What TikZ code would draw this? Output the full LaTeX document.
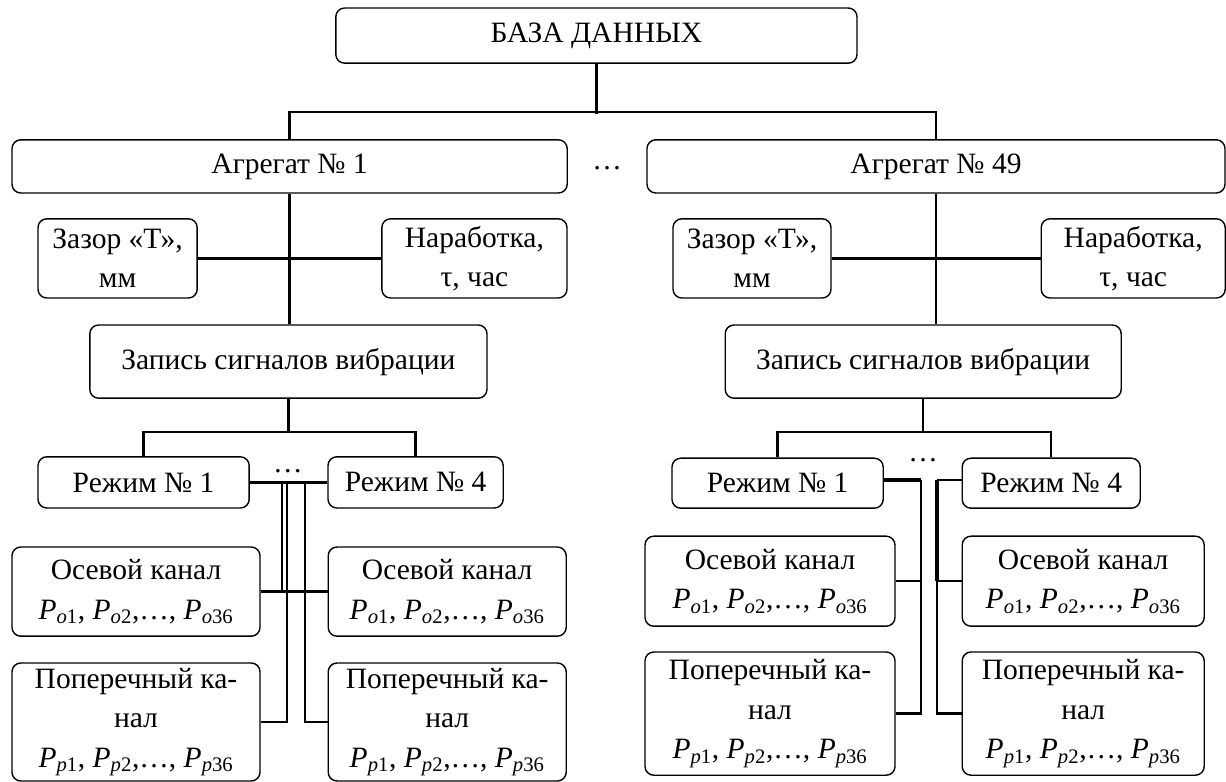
\documentclass[tikz,border=0pt]{standalone}
\usepackage{fontspec}
\setmainfont{Liberation Serif}
\usepackage{tikz}
\usetikzlibrary{shapes.geometric, arrows}
\tikzstyle{box} = [rectangle, rounded corners=0.22cm, text centered, align=center, inner sep=1pt, draw=black, line width=1pt, font=\fontsize{21}{28}\selectfont]
\tikzstyle{conn} = [draw, line width=1.8pt]
\tikzstyle{heavy} = [draw, line width=2.8pt]
\tikzstyle{dots} = [inner sep=0pt, font=\fontsize{21}{28}\selectfont]
\newcommand{\Pch}[2]{\textit{P}\textsubscript{\textit{#1}#2}}

\begin{document}
\begin{tikzpicture}
   \useasboundingbox (0,0) rectangle (30.65,-19.55);
   % top level
   \node (db) [box, minimum width=13.03cm, minimum height=1.38cm] at (14.91,-0.89) {БАЗА ДАННЫХ};
   \node (agg1) [box, minimum width=13.88cm, minimum height=1.33cm] at (7.24,-4.16) {Агрегат № 1};
   \node (agg2) [box, minimum width=14.45cm, minimum height=1.33cm] at (23.40,-4.16) {Агрегат № 49};
   \node (aggdots) [dots] at (15.18,-4.2) {\ldots};
   \draw [conn] (db.south) -- ++(0,-1.25);
   \draw [conn] (agg1.north) -- ++(0,0.675) -| (agg2.north);
   % aggregate 1
   \node (gap1) [box, minimum width=3.98cm, minimum height=1.98cm] at (2.94,-6.46) {Зазор «Т»,\\мм};
   \node (run1) [box, minimum width=4.63cm, minimum height=1.98cm] at (11.86,-6.46) {Наработка,\\τ, час};
   \node (rec1) [box, minimum width=9.93cm, minimum height=1.83cm] at (7.21,-9.04) {Запись сигналов вибрации};
   \draw [conn] (agg1.south) -- (agg1.south |- rec1.north);
   \draw [conn] (gap1.east) -- (run1.west);
   \node (modeA1) [box, minimum width=5.28cm, minimum height=1.28cm] at (3.59,-12.06) {Режим № 1};
   \node (modeA4) [box, minimum width=4.38cm, minimum height=1.28cm] at (10.39,-12.06) {Режим № 4};
   \node (modedotsA) [dots] at (7.2,-11.78) {\ldots};
   \coordinate (busA) at (7.21,-10.8);
   \draw [conn] (rec1.south) -- (busA);
   \draw [conn] (modeA1.north) |- (busA) -| (modeA4.north);
   \node (axA1) [box, minimum width=6.2cm, minimum height=2.23cm] at (3.4,-14.79) {Осевой канал\\\Pch{o}{1}, \Pch{o}{2},\ldots, \Pch{o}{36}};
   \node (axA4) [box, minimum width=5.95cm, minimum height=2.23cm] at (11.18,-14.79) {Осевой канал\\\Pch{o}{1}, \Pch{o}{2},\ldots, \Pch{o}{36}};
   \node (crA1) [box, minimum width=6.2cm, minimum height=2.95cm] at (3.4,-18.05) {Поперечный ка-\\нал\\\Pch{p}{1}, \Pch{p}{2},\ldots, \Pch{p}{36}};
   \node (crA4) [box, minimum width=5.95cm, minimum height=2.95cm] at (11.18,-18.05) {Поперечный ка-\\нал\\\Pch{p}{1}, \Pch{p}{2},\ldots, \Pch{p}{36}};
   \coordinate (jA1) at (7.05,-12.06);
   \coordinate (jA2) at (7.18,-12.06);
   \coordinate (jA3) at (7.63,-12.06);
   \draw [conn] (modeA1.east) -- (modeA4.west);
   \draw [conn] (jA1) |- (axA1.east);
   \draw [conn] (axA1.east) -- (axA4.west);
   \draw [conn] (jA2) |- (crA1.east);
   \draw [conn] (jA3) |- (crA4.west);
   % aggregate 49
   \node (gap2) [box, minimum width=3.95cm, minimum height=1.98cm] at (18.8,-6.46) {Зазор «Т»,\\мм};
   \node (run2) [box, minimum width=4.6cm, minimum height=1.98cm] at (28.33,-6.46) {Наработка,\\τ, час};
   \node (rec2) [box, minimum width=9.9cm, minimum height=1.83cm] at (23.08,-9.04) {Запись сигналов вибрации};
   \draw [conn] (agg2.south) -- (agg2.south |- rec2.north);
   \draw [conn] (gap2.east) -- (run2.west);
   \node (modeB1) [box, minimum width=5.28cm, minimum height=1.25cm] at (19.44,-12.08) {Режим № 1};
   \node (modeB4) [box, minimum width=4.45cm, minimum height=1.25cm] at (26.28,-12.08) {Режим № 4};
   \node (modedotsB) [dots] at (23.08,-11.5) {\ldots};
   \coordinate (busB) at (23.08,-10.8);
   \draw [conn] (rec2.south) -- (busB);
   \draw [conn] (modeB1.north) |- (busB) -| (modeB4.north);
   \node (axB1) [box, minimum width=6.25cm, minimum height=2.25cm] at (19.25,-14.53) {Осевой канал\\\Pch{o}{1}, \Pch{o}{2},\ldots, \Pch{o}{36}};
   \node (axB4) [box, minimum width=6.05cm, minimum height=2.25cm] at (27.08,-14.53) {Осевой канал\\\Pch{o}{1}, \Pch{o}{2},\ldots, \Pch{o}{36}};
   \node (crB1) [box, minimum width=6.25cm, minimum height=3.08cm] at (19.25,-17.84) {Поперечный ка-\\нал\\\Pch{p}{1}, \Pch{p}{2},\ldots, \Pch{p}{36}};
   \node (crB4) [box, minimum width=6.05cm, minimum height=3.08cm] at (27.08,-17.84) {Поперечный ка-\\нал\\\Pch{p}{1}, \Pch{p}{2},\ldots, \Pch{p}{36}};
   \coordinate (jB1) at (23.03,-12.0);
   \coordinate (jB4) at (23.43,-12.0);
   \draw [heavy] (modeB1.east |- jB1) -- (jB1);
   \draw [conn] (jB1) |- (crB1.east);
   \draw [conn] (axB1.east) -- (axB1.east -| jB1);
   \draw [conn] (modeB4.west |- jB4) -- (jB4);
   \draw [heavy] (jB4) -- (jB4 |- axB4.west);
   \draw [conn] (jB4) |- (crB4.west);
   \draw [conn] (axB4.west) -- (axB4.west -| jB4);
\end{tikzpicture}
\end{document}
